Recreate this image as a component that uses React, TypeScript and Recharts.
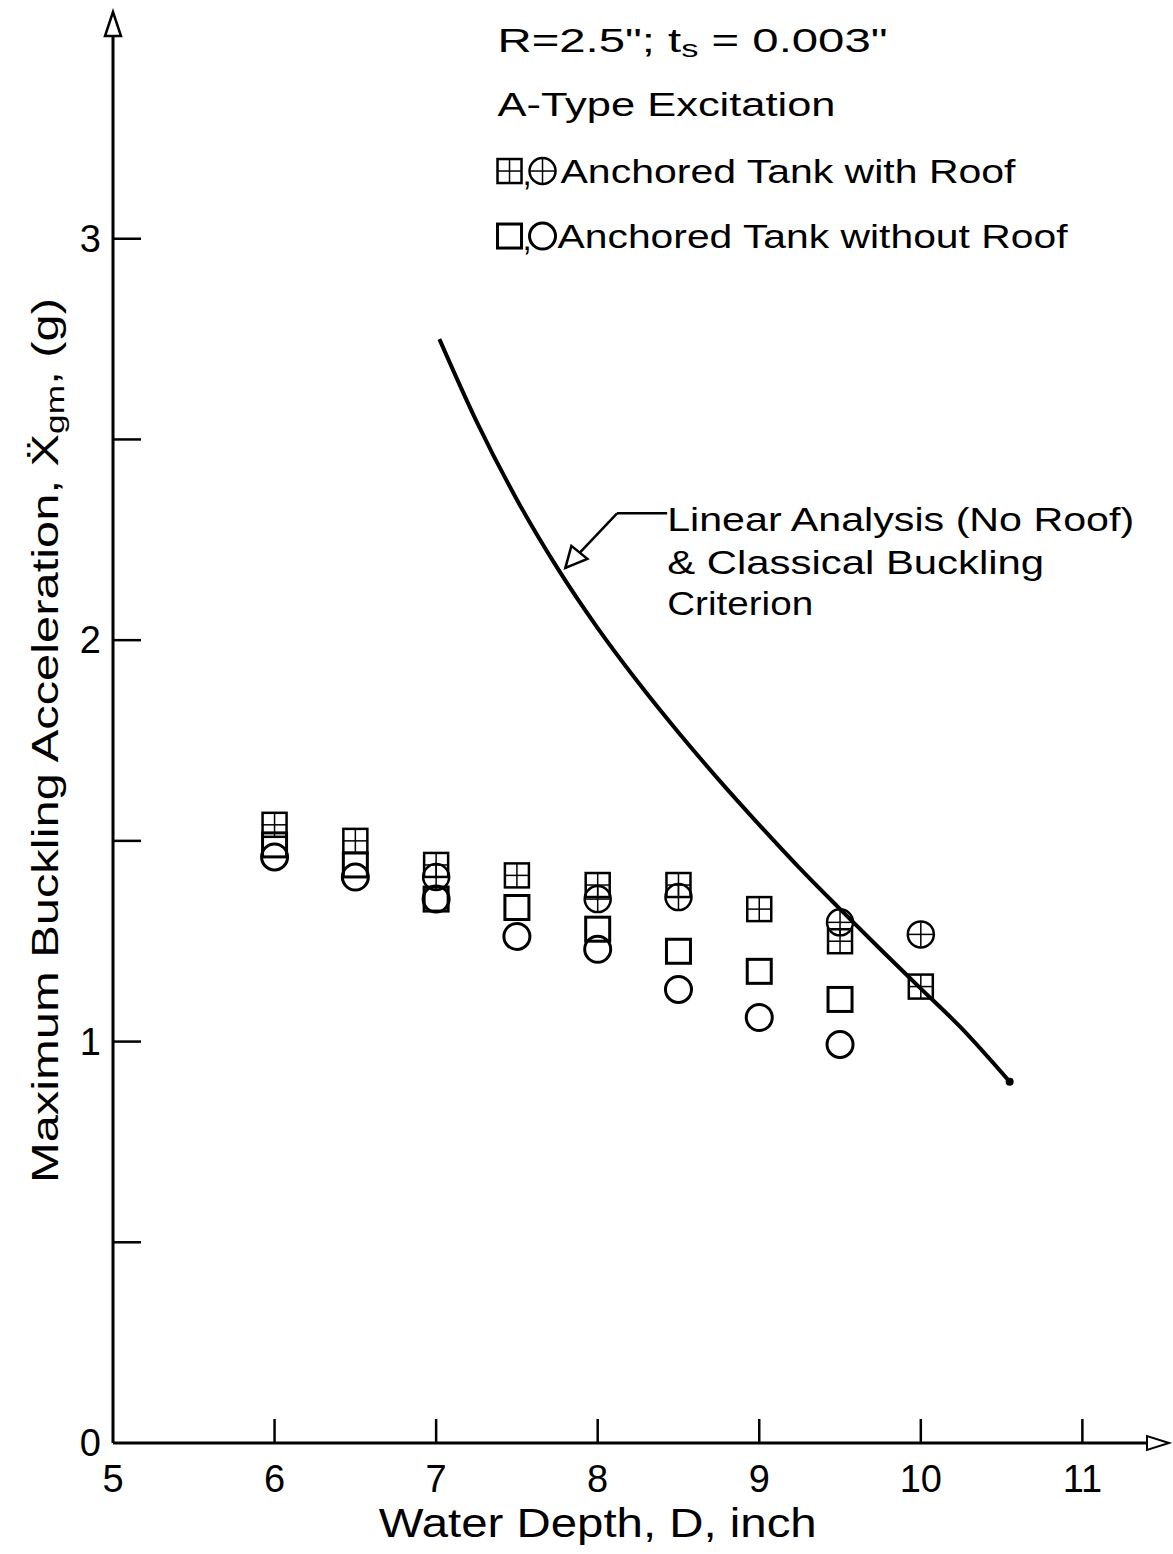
import {
  ComposedChart,
  Scatter,
  XAxis,
  YAxis,
  ReferenceDot,
  ReferenceLine,
} from 'recharts';

const FONT = '"Liberation Sans", Arial, sans-serif';

// axis ticks
const xTicks = [5, 6, 7, 8, 9, 10, 11];
const yTicks = [0, 0.5, 1, 1.5, 2, 2.5, 3];

// anchored tank with roof
const roofSquare = [
  { x: 6, y: 1.54 },
  { x: 6.5, y: 1.5 },
  { x: 7, y: 1.44 },
  { x: 7.5, y: 1.414 },
  { x: 8, y: 1.39 },
  { x: 8.5, y: 1.39 },
  { x: 9, y: 1.33 },
  { x: 9.5, y: 1.25 },
  { x: 10, y: 1.137 },
];
const roofCircle = [
  { x: 7, y: 1.41 },
  { x: 8, y: 1.355 },
  { x: 8.5, y: 1.36 },
  { x: 9.5, y: 1.297 },
  { x: 10, y: 1.267 },
];

// anchored tank without roof
const noRoofSquare = [
  { x: 6, y: 1.49 },
  { x: 6.5, y: 1.44 },
  { x: 7, y: 1.355 },
  { x: 7.5, y: 1.334 },
  { x: 8, y: 1.28 },
  { x: 8.5, y: 1.225 },
  { x: 9, y: 1.175 },
  { x: 9.5, y: 1.105 },
];
const noRoofCircle = [
  { x: 6, y: 1.46 },
  { x: 6.5, y: 1.41 },
  { x: 7, y: 1.355 },
  { x: 7.5, y: 1.262 },
  { x: 8, y: 1.23 },
  { x: 8.5, y: 1.13 },
  { x: 9, y: 1.06 },
  { x: 9.5, y: 0.993 },
];

// linear analysis & classical buckling criterion
const criterion = [
  { x: 7.02, y: 2.75 },
  { x: 7.25, y: 2.545 },
  { x: 7.5, y: 2.35 },
  { x: 7.75, y: 2.18 },
  { x: 8.0, y: 2.03 },
  { x: 8.25, y: 1.895 },
  { x: 8.5, y: 1.77 },
  { x: 8.75, y: 1.652 },
  { x: 9.0, y: 1.54 },
  { x: 9.25, y: 1.432 },
  { x: 9.5, y: 1.33 },
  { x: 9.75, y: 1.23 },
  { x: 10.0, y: 1.132 },
  { x: 10.25, y: 1.034 },
  { x: 10.55, y: 0.9 },
];

const S = 12; // half size of markers

const GridSquare = ({ cx, cy }: any) => (
  <g stroke="#000" strokeWidth={2.5} fill="none">
    <rect x={cx - S} y={cy - S} width={2 * S} height={2 * S} />
    <line x1={cx - S} x2={cx + S} y1={cy} y2={cy} strokeWidth={1.5} />
    <line x1={cx} x2={cx} y1={cy - S} y2={cy + S} strokeWidth={1.5} />
  </g>
);
const CrossCircle = ({ cx, cy }: any) => (
  <g stroke="#000" strokeWidth={2.5} fill="none">
    <circle cx={cx} cy={cy} r={S + 1} />
    <line x1={cx - S} x2={cx + S} y1={cy} y2={cy} strokeWidth={1.5} />
    <line x1={cx} x2={cx} y1={cy - S} y2={cy + S} strokeWidth={1.5} />
  </g>
);
const OpenSquare = ({ cx, cy }: any) => (
  <rect x={cx - S} y={cy - S} width={2 * S} height={2 * S} stroke="#000" strokeWidth={3} fill="none" />
);
const OpenCircle = ({ cx, cy }: any) => (
  <circle cx={cx} cy={cy} r={S + 1} stroke="#000" strokeWidth={3} fill="none" />
);

const CurveEnd = ({ cx, cy, payload }: any) =>
  payload && payload.x === criterion[criterion.length - 1].x ? <circle cx={cx} cy={cy} r={4} fill="#000" /> : <g />;

const YTick = ({ x, y, payload }: any) => {
  const v = payload.value;
  return (
    <g>
      {v !== 0 && <line x1={x} x2={x + 28} y1={y} y2={y} stroke="#000" strokeWidth={2.5} />}
      {Number.isInteger(v) && (
        <text x={x - 12} y={y} textAnchor="end" dominantBaseline="central" fontSize={38} fontFamily={FONT} fill="#000">
          {v}
        </text>
      )}
    </g>
  );
};

const XTick = ({ x, y, payload }: any) => {
  const v = payload.value;
  return (
    <g>
      {v !== 5 && <line x1={x} x2={x} y1={y} y2={y - 24} stroke="#000" strokeWidth={2.5} />}
      <text x={x} y={y + 36} textAnchor="middle" dominantBaseline="central" fontSize={38} fontFamily={FONT} fill="#000">
        {v}
      </text>
    </g>
  );
};

const txt = (lines: { dx?: number; dy: number; text: any; len: number }[]) => ({ cx, cy }: any) => (
  <g>
    {lines.map((l, i) => (
      <text
        key={i}
        x={cx + (l.dx || 0)}
        y={cy + l.dy}
        dominantBaseline="central"
        fontSize={33}
        fontFamily={FONT}
        fill="#000"
        textLength={l.len}
        lengthAdjust="spacingAndGlyphs"
      >
        {l.text}
      </text>
    ))}
  </g>
);

const LegendText = txt([
  {
    dy: 0,
    len: 390,
    text: (
      <>
        R=2.5"; t<tspan fontSize={24} dy={8}>s</tspan>
        <tspan dy={-8}> = 0.003"</tspan>
      </>
    ),
  },
  { dy: 64, len: 338, text: 'A-Type Excitation' },
  { dx: 63, dy: 131, len: 455, text: 'Anchored Tank with Roof' },
  { dx: 60, dy: 196, len: 510, text: 'Anchored Tank without Roof' },
]);

const Legend = (p: any) => {
  const { cx, cy } = p;
  const comma = (x: number, y: number) => (
    <text x={x} y={y + 2} dominantBaseline="central" fontSize={33} fontFamily={FONT} fill="#000">
      ,
    </text>
  );
  return (
    <g>
      <LegendText cx={cx} cy={cy} />
      <GridSquare cx={cx + 12} cy={cy + 131} />
      {comma(cx + 25, cy + 131)}
      <CrossCircle cx={cx + 45} cy={cy + 131} />
      <OpenSquare cx={cx + 12} cy={cy + 196} />
      {comma(cx + 25, cy + 196)}
      <OpenCircle cx={cx + 45} cy={cy + 196} />
    </g>
  );
};

const Annotation = txt([
  { dy: 0, len: 467, text: 'Linear Analysis  (No Roof)' },
  { dy: 43, len: 377, text: '& Classical  Buckling' },
  { dy: 84, len: 146, text: 'Criterion' },
]);

const YLabel = ({ cx, cy }: any) => (
  <text
    x={cx}
    y={cy}
    transform={`rotate(-90 ${cx} ${cy})`}
    textAnchor="middle"
    dominantBaseline="central"
    fontSize={36}
    fontFamily={FONT}
    fill="#000"
    textLength={885}
    lengthAdjust="spacingAndGlyphs"
  >
    Maximum Buckling Acceleration, Ẍ<tspan fontSize={26} dy={10}>gm</tspan>
    <tspan dy={-10}>, (g)</tspan>
  </text>
);

const XLabel = ({ cx, cy }: any) => (
  <text
    x={cx}
    y={cy}
    textAnchor="middle"
    dominantBaseline="central"
    fontSize={40}
    fontFamily={FONT}
    fill="#000"
    textLength={438}
    lengthAdjust="spacingAndGlyphs"
  >
    Water Depth, D, inch
  </text>
);

const UpArrow = ({ cx, cy }: any) => (
  <path d={`M${cx},${cy - 18} L${cx - 8},${cy + 6} L${cx + 8},${cy + 6} Z`} fill="#fff" stroke="#000" strokeWidth={2.5} />
);
const RightArrow = ({ cx, cy }: any) => (
  <path d={`M${cx + 22},${cy} L${cx},${cy - 7} L${cx},${cy + 7} Z`} fill="#fff" stroke="#000" strokeWidth={2} />
);
const LeaderArrow = ({ cx, cy }: any) => (
  <path
    d={`M${cx},${cy} L${cx + 6},${cy - 22} L${cx + 22},${cy - 9} Z`}
    fill="#fff"
    stroke="#000"
    strokeWidth={2.5}
  />
);

export default function App() {
  return (
    <div style={{ position: 'absolute', left: 0, top: 0, background: '#fff' }}>
      <ComposedChart
        width={1173}
        height={1554}
        margin={{ top: 30, right: 26, bottom: 51, left: 53 }}
      >
        <XAxis
          type="number"
          dataKey="x"
          domain={[5, 11.4]}
          ticks={xTicks}
          allowDataOverflow
          axisLine={{ stroke: '#000', strokeWidth: 3 }}
          tickLine={false}
          tickSize={0}
          tickMargin={0}
          tick={<XTick />}
          height={60}
        />
        <YAxis
          type="number"
          dataKey="y"
          domain={[0, 3.52]}
          ticks={yTicks}
          allowDataOverflow
          axisLine={{ stroke: '#000', strokeWidth: 3 }}
          tickLine={false}
          tickSize={0}
          tickMargin={0}
          tick={<YTick />}
          width={60}
        />

        <Scatter
          data={criterion}
          line={{ stroke: '#000', strokeWidth: 4 }}
          lineJointType="monotoneX"
          shape={<CurveEnd />}
          isAnimationActive={false}
        />
        <Scatter data={noRoofCircle} shape={<OpenCircle />} isAnimationActive={false} />
        <Scatter data={noRoofSquare} shape={<OpenSquare />} isAnimationActive={false} />
        <Scatter data={roofCircle} shape={<CrossCircle />} isAnimationActive={false} />
        <Scatter data={roofSquare} shape={<GridSquare />} isAnimationActive={false} />

        {/* leader from annotation to curve */}
        <ReferenceLine
          segment={[
            { x: 8.43, y: 2.316 },
            { x: 8.12, y: 2.316 },
          ]}
          stroke="#000"
          strokeWidth={2.5}
          ifOverflow="visible"
        />
        <ReferenceLine
          segment={[
            { x: 8.12, y: 2.316 },
            { x: 7.8, y: 2.18 },
          ]}
          stroke="#000"
          strokeWidth={2.5}
          ifOverflow="visible"
        />
        <ReferenceDot x={7.8} y={2.18} r={0} shape={<LeaderArrow />} ifOverflow="visible" />

        <ReferenceDot x={8.43} y={2.3} r={0} shape={<Annotation />} ifOverflow="visible" />
        <ReferenceDot x={7.38} y={3.495} r={0} shape={<Legend />} ifOverflow="visible" />

        <ReferenceDot x={5} y={3.52} r={0} shape={<UpArrow />} ifOverflow="visible" />
        <ReferenceDot x={11.4} y={0} r={0} shape={<RightArrow />} ifOverflow="visible" />
        <ReferenceDot x={4.58} y={1.75} r={0} shape={<YLabel />} ifOverflow="visible" />
        <ReferenceDot x={8} y={-0.2} r={0} shape={<XLabel />} ifOverflow="visible" />
      </ComposedChart>
    </div>
  );
}
